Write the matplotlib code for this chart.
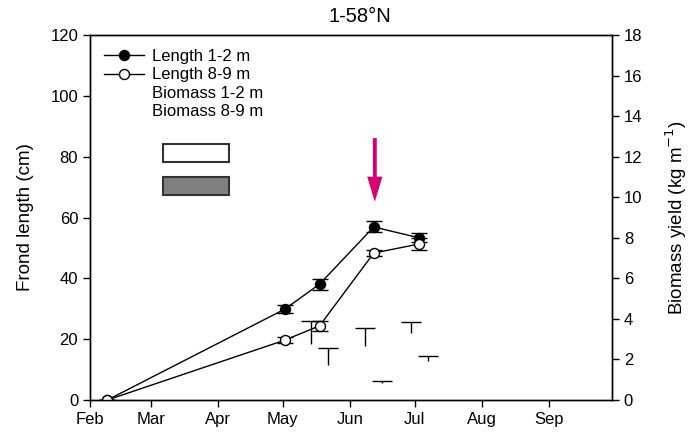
import datetime as dt
import matplotlib
matplotlib.use("Agg")
from matplotlib import pyplot as plt
import matplotlib.dates as mdates
import matplotlib.transforms as mtransforms
from matplotlib.lines import Line2D
from matplotlib.patches import Rectangle

plt.rcParams['font.family'] = ['Liberation Sans', 'DejaVu Sans']

# frond length (cm), left axis
length_dates = [dt.datetime(2014, 2, 9), dt.datetime(2014, 5, 2), dt.datetime(2014, 5, 18),
                dt.datetime(2014, 6, 12), dt.datetime(2014, 7, 3)]
length_1_2 = [0, 29.9, 38.1, 56.9, 53.3]
length_1_2_err = [0, 1.2, 1.8, 1.8, 1.5]
length_8_9 = [0, 19.7, 24.4, 48.3, 51.3]
length_8_9_err = [0, 1.0, 1.7, 1.0, 2.0]

# biomass yield (kg m-1), right axis
biomass_dates = [dt.datetime(2014, 5, 18), dt.datetime(2014, 6, 12), dt.datetime(2014, 7, 3)]
biomass_1_2 = [2.76, 2.66, 3.29]
biomass_1_2_err = [1.14, 0.87, 0.57]
biomass_8_9 = [1.73, 0.82, 1.92]
biomass_8_9_err = [0.85, 0.13, 0.26]

arrow_date = dt.datetime(2014, 6, 12, 12)
arrow_from, arrow_to = 86.1, 65.2

fig = plt.figure(figsize=(6.9, 4.41), dpi=100)
ax = fig.add_axes([90 / 690, 41 / 441, 522 / 690, 365 / 441])
ax2 = ax.twinx()

# length lines
ax.errorbar(length_dates, length_1_2, yerr=length_1_2_err, color='k', lw=1, marker='o',
            ms=7.2, mfc='k', mec='k', mew=1, capsize=6, elinewidth=1, zorder=3)
ax.errorbar(length_dates, length_8_9, yerr=length_8_9_err, color='k', lw=1, marker='o',
            ms=7.2, mfc='white', mec='k', mew=1, capsize=6, elinewidth=1, zorder=3)

# biomass: only the upper error whiskers are visible
shift = dt.timedelta(days=4)
for dates, vals, errs in [([d - shift for d in biomass_dates], biomass_1_2, biomass_1_2_err),
                          ([d + shift for d in biomass_dates], biomass_8_9, biomass_8_9_err)]:
    _, caps, _ = ax2.errorbar(dates, vals, yerr=[[0] * len(errs), errs], fmt='none',
                              ecolor='k', elinewidth=1, capsize=7)
    caps[0].set_visible(False)

# arrow
ax.annotate('', xy=(arrow_date, arrow_to), xytext=(arrow_date, arrow_from),
            arrowprops=dict(width=2.8, headwidth=11, headlength=18, shrink=0,
                            color='#d4006f', lw=0))

ax.set_xlim(dt.datetime(2014, 2, 1), dt.datetime(2014, 9, 30))
ax.set_ylim(0, 120)
ax.set_yticks(range(0, 121, 20))
ax2.set_ylim(0, 18)
ax2.set_yticks(range(0, 19, 2))
ax.xaxis.set_major_locator(mdates.MonthLocator())
ax.xaxis.set_major_formatter(mdates.DateFormatter('%b'))
offset = mtransforms.ScaledTranslation(-0.05, 0, fig.dpi_scale_trans)
for lab in ax.get_xticklabels():
    lab.set_transform(lab.get_transform() + offset)

for a in (ax, ax2):
    a.tick_params(direction='out', length=5, width=1, labelsize=12)
    for s in a.spines.values():
        s.set_linewidth(1)

ax.set_ylabel('Frond length (cm)', fontsize=13.5, labelpad=12)
ax2.set_ylabel('Biomass yield (kg m$^{-1}$)', fontsize=13.5, labelpad=15)
fig.text(360 / 690, 1 - 17 / 441, '1-58°N', ha='center', va='center', fontsize=14.5)

# legend
handles = [Line2D([], [], color='k', lw=1, marker='o', ms=7.2, mfc='k', mec='k'),
           Line2D([], [], color='k', lw=1, marker='o', ms=7.2, mfc='white', mec='k'),
           Line2D([], [], linestyle='none'),
           Line2D([], [], linestyle='none')]
labels = ['Length 1-2 m', 'Length 8-9 m', 'Biomass 1-2 m', 'Biomass 8-9 m']
ax.legend(handles, labels, loc='upper left', frameon=False, fontsize=12,
          handlelength=2.4, handletextpad=0.45, labelspacing=0.2,
          borderaxespad=0.5, borderpad=0.35)

ax.add_patch(Rectangle((0.1404, 0.651), 0.1259, 0.0495, transform=ax.transAxes,
                       facecolor='white', edgecolor='#333333', lw=1.5, zorder=4))
ax.add_patch(Rectangle((0.1404, 0.5616), 0.1259, 0.0502, transform=ax.transAxes,
                       facecolor='#808080', edgecolor='#333333', lw=1.5, zorder=4))

plt.savefig('out.png', dpi=100)
